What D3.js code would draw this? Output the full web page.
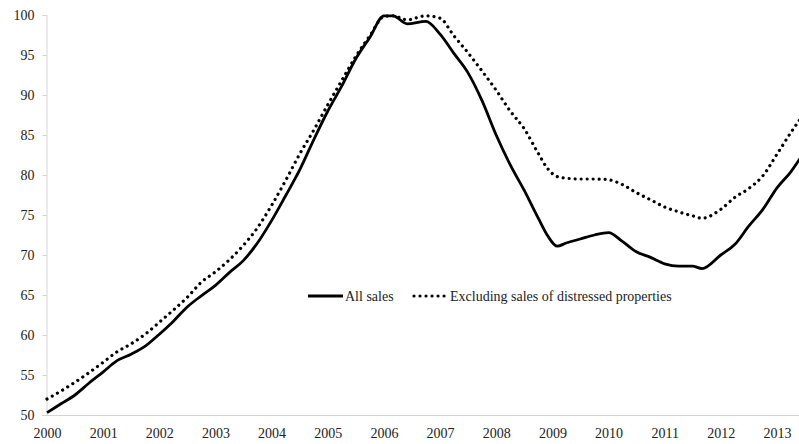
<!DOCTYPE html>
<html>
<head>
<meta charset="utf-8">
<script src="https://cdn.jsdelivr.net/npm/d3@7"></script>
<style>
  html, body { margin: 0; padding: 0; background: #fff; }
  svg { display: block; }
  text { font-family: "Liberation Serif", "Times New Roman", serif; fill: #222; }
</style>
</head>
<body>
<svg id="chart" width="799" height="444"></svg>
<script>
// Observations by month index from January 2000; index with the 2006 peak = 100
const months = [0,3,6,9,12,15,18,21,24,27,30,33,36,39,42,45,48,51,54,57,60,63,66,69,72,74,77,81,84,87,90,93,96,99,102,105,107,109,111,114,117,120,123,126,129,132,135,138,140,144,147,150,153,156,159,161];

const allSales = [50.3,51.4,52.5,54.0,55.4,56.8,57.6,58.6,60.1,61.7,63.5,64.9,66.2,67.8,69.3,71.5,74.3,77.4,80.6,84.4,88.0,91.1,94.5,97.2,99.9,99.9,98.9,99.2,97.6,95.2,92.8,89.3,85.0,81.3,78.1,74.6,72.4,71.1,71.5,72.0,72.5,72.8,71.7,70.4,69.7,68.9,68.6,68.6,68.3,70.0,71.3,73.6,75.7,78.4,80.4,82.1];

const exDistressed = [52.0,53.0,54.1,55.3,56.6,57.9,58.9,60.1,61.6,63.1,64.7,66.6,67.9,69.4,71.2,73.4,76.2,79.3,82.6,85.6,88.8,91.8,94.8,97.4,99.8,99.9,99.4,99.9,99.6,97.4,95.3,93.0,90.6,88.0,85.8,82.7,80.8,79.8,79.6,79.5,79.5,79.4,78.8,77.8,76.9,76.0,75.4,74.9,74.6,75.7,77.2,78.3,79.9,82.6,85.3,87.0];

const yearLabels = ["2000","2001","2002","2003","2004","2005","2006","2007","2008","2009","2010","2011","2012","2013"];
const yTicks = [50,55,60,65,70,75,80,85,90,95,100];

const seriesNames = ["All sales", "Excluding sales of distressed properties"];

const svg = d3.select("#chart");

const x = d3.scaleTime()
  .domain([new Date(2000, 0, 1), new Date(2013, 0, 1)])
  .range([47, 777]);

const y = d3.scaleLinear()
  .domain([50, 100])
  .range([415, 15]);

const toDate = m => new Date(2000 + Math.floor(m / 12), m % 12, 1);

// Value axis
const yAxis = d3.axisLeft(y).tickValues(yTicks).tickSize(4).tickPadding(8).tickFormat(d3.format("d"));
const gy = svg.append("g").attr("transform", "translate(46.5,0)").call(yAxis);
gy.select(".domain").attr("stroke", "#d4d4d4");
gy.selectAll(".tick line").attr("stroke", "#d4d4d4");
gy.selectAll(".tick text").attr("font-size", 14).attr("fill", "#222")
  .style("font-family", "'Liberation Serif', serif");

// Year axis
const xAxis = d3.axisBottom(x)
  .tickValues(yearLabels.map(s => new Date(+s, 0, 1)))
  .tickSize(0).tickPadding(13)
  .tickFormat((d, i) => yearLabels[i]);
const gx = svg.append("g").attr("transform", "translate(0,415.5)").call(xAxis);
gx.select(".domain").attr("stroke", "#d4d4d4").attr("d", "M46,0H799");
gx.selectAll(".tick text").attr("font-size", 14).attr("fill", "#222")
  .style("font-family", "'Liberation Serif', serif");

// Series
const line = d3.line()
  .x((d, i) => x(toDate(months[i])))
  .y(d => y(d))
  .curve(d3.curveMonotoneX);

svg.append("path")
  .datum(exDistressed)
  .attr("fill", "none")
  .attr("stroke", "#000")
  .attr("stroke-width", 3.2)
  .attr("stroke-linecap", "round")
  .attr("stroke-dasharray", "0.01 6")
  .attr("d", line);

svg.append("path")
  .datum(allSales)
  .attr("fill", "none")
  .attr("stroke", "#000")
  .attr("stroke-width", 2.8)
  .attr("stroke-linejoin", "round")
  .attr("d", line);

// Legend
const lg = svg.append("g").attr("transform", "translate(0,296)");
lg.append("line").attr("x1", 308).attr("x2", 343).attr("y1", 0).attr("y2", 0)
  .attr("stroke", "#000").attr("stroke-width", 2.8);
lg.append("text").attr("x", 345).attr("y", 5).attr("font-size", 14).text(seriesNames[0]);
lg.append("line").attr("x1", 414).attr("x2", 446).attr("y1", 0).attr("y2", 0)
  .attr("stroke", "#000").attr("stroke-width", 3.2)
  .attr("stroke-linecap", "round").attr("stroke-dasharray", "0.01 6");
lg.append("text").attr("x", 450).attr("y", 5).attr("font-size", 14).text(seriesNames[1]);
</script>
</body>
</html>
